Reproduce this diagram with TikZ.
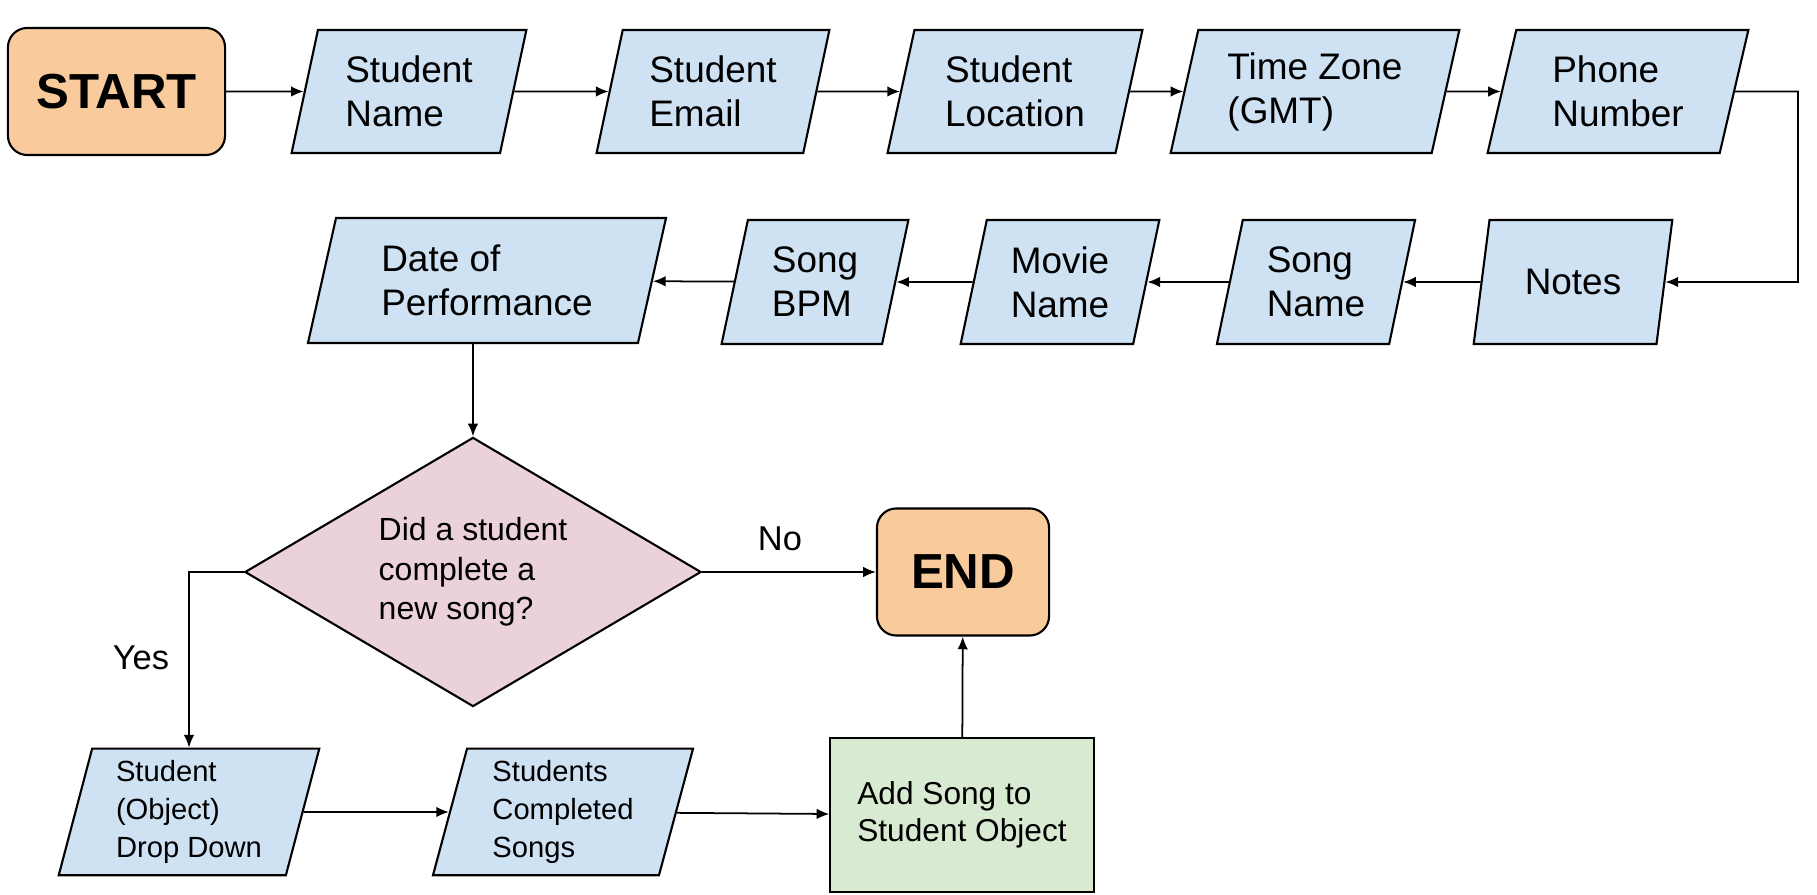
\documentclass[tikz,border=0pt]{standalone}
\usepackage{fontspec}
\setmainfont{Liberation Sans}
\usetikzlibrary{shapes.geometric,arrows.meta}

\definecolor{termfill}{HTML}{F9CB9C}
\definecolor{iofill}{HTML}{CFE2F3}
\definecolor{decfill}{HTML}{EAD1DC}
\definecolor{procfill}{HTML}{D9EAD3}

\begin{document}
\begin{tikzpicture}[x=0.01cm, y=-0.01cm,
    every node/.style={font=\fontsize{10.5}{12.5}\selectfont},
    term/.style={draw, line width=0.6pt, fill=termfill, rounded corners=5.5pt,
      minimum width=1.72cm, minimum height=1.27cm,
      font=\fontsize{14}{16}\selectfont\bfseries},
    io/.style={draw, line width=0.6pt, fill=iofill, trapezium,
      trapezium left angle=77, trapezium right angle=103,
      trapezium stretches=true, minimum height=1.23cm, align=left},
    smallio/.style={io, font=\fontsize{8.3}{10.8}\selectfont},
    decision/.style={draw, line width=0.6pt, fill=decfill, diamond, aspect=1.7,
      inner sep=0pt, minimum width=4.56cm, minimum height=2.69cm, align=left,
      font=\fontsize{9.1}{11.2}\selectfont},
    process/.style={draw, line width=0.6pt, fill=procfill, align=left,
      minimum width=2.63cm, minimum height=1.54cm,
      font=\fontsize{9}{10.5}\selectfont},
    answer/.style={font=\fontsize{9.8}{11}\selectfont},
    flow/.style={-{Latex[length=3.6pt,width=3pt]}, line width=0.5pt}]
  \useasboundingbox (0,0) rectangle (1817,895);

  % first row
  \node[term, minimum width=2.17cm] (start) at (116.5,91.5) {START};
  \node[io, minimum width=2.36cm] (name) at (409,91.5) {Student\\Name};
  \node[io, minimum width=2.34cm] (email) at (713,91.5) {Student\\Email};
  \node[io, minimum width=2.55cm] (loc) at (1015,91.5) {Student\\Location};
  \node[io, minimum width=2.89cm] (tz) at (1315,91.5) {Time Zone\\(GMT)};
  \node[io, minimum width=2.61cm] (phone) at (1618,91.5) {Phone\\Number};
  \coordinate (turn) at (1798,91.5);

  % second row
  \node[io, minimum width=1.99cm, minimum height=1.24cm] (notes) at (1573,282) {Notes};
  \node[io, minimum width=1.99cm, minimum height=1.24cm] (song) at (1316,282) {Song\\Name};
  \node[io, minimum width=1.99cm, minimum height=1.24cm] (movie) at (1060,282) {Movie\\Name};
  \node[io, minimum width=1.87cm, minimum height=1.24cm] (bpm) at (815,282) {Song\\BPM};
  \node[io, minimum width=3.59cm, minimum height=1.25cm] (date) at (487,280.5) {Date of\\Performance};

  % decision
  \node[decision] (dec) at (473,572) {Did a student\\complete a\\new song?};
  \node[term] (end) at (963,572) {END};
  \node[answer] (no) at (780,539) {No};
  \node[answer] (yes) at (141,658) {Yes};

  % last row
  \node[smallio, minimum width=2.61cm] (drop) at (189,812) {Student\\(Object)\\Drop Down};
  \node[smallio, minimum width=2.61cm] (comp) at (563,812) {Students\\Completed\\Songs};
  \node[process] (add) at (962,815) {Add Song to\\Student Object};

  \draw[flow] (start) -- (name);
  \draw[flow] (name) -- (email);
  \draw[flow] (email) -- (loc);
  \draw[flow] (loc) -- (tz);
  \draw[flow] (tz) -- (phone);
  \draw[flow] (phone.east) -- (turn) |- (notes.east);
  \draw[flow] (notes) -- (song);
  \draw[flow] (song) -- (movie);
  \draw[flow] (movie) -- (bpm);
  \draw[flow] (bpm) -- (date);
  \draw[flow] (dec.north |- date.south) -- (dec.north);
  \draw[flow] (dec.east) -- (end.west);
  \draw[flow] (dec.west) -| (drop.north);
  \draw[flow] (drop) -- (comp);
  \draw[flow] (comp) -- (add);
  \draw[flow] (add) -- (end);
\end{tikzpicture}
\end{document}
